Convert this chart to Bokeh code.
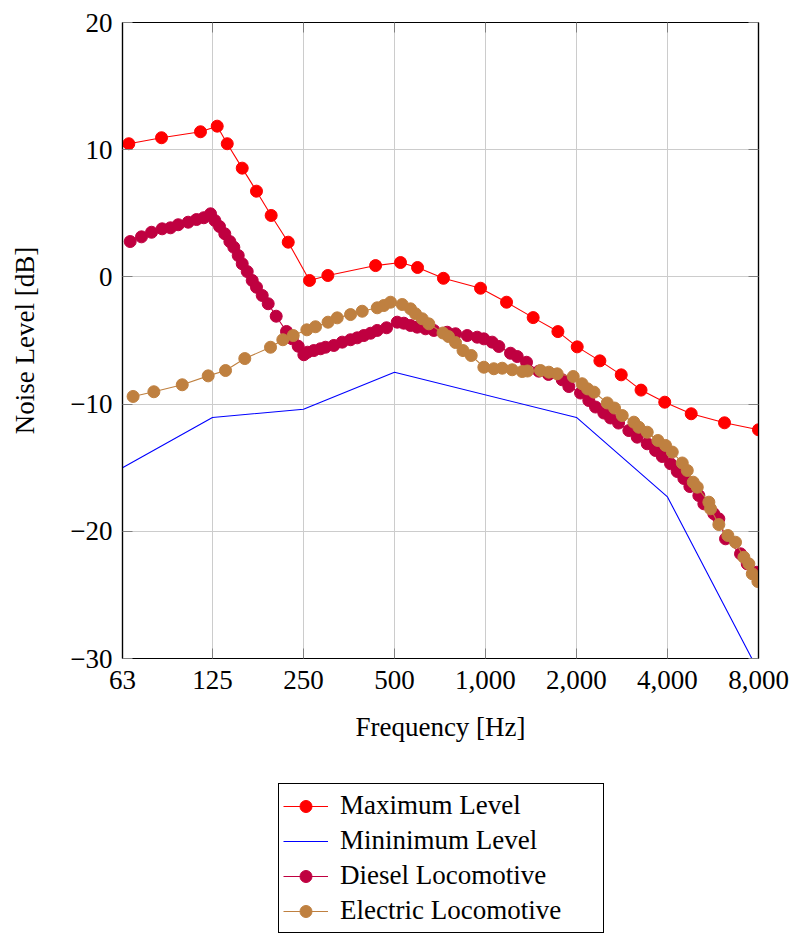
from bokeh.plotting import figure
from bokeh.layouts import column
from bokeh.models import Range1d, FixedTicker, LinearAxis, LogAxis, Legend, LegendItem
from bokeh.embed import file_html
from bokeh.resources import INLINE

# ---------------- data ----------------
x_ticks = [63, 125, 250, 500, 1000, 2000, 4000, 8000]
x_tick_labels = ["63", "125", "250", "500", "1,000", "2,000", "4,000", "8,000"]
y_ticks = [-30, -20, -10, 0, 10, 20]
y_tick_labels = ["\u221230", "\u221220", "\u221210", "0", "10", "20"]

max_f = [66.1, 84.8, 114.1, 129.6, 139.9, 156.8, 174.8, 195.5, 222.6, 261.8, 301, 433,
         523.6, 596, 726, 963, 1174, 1438, 1736, 2011, 2390, 2812, 3270, 3917, 4792, 6175, 8000]
max_db = [10.47, 10.94, 11.41, 11.85, 10.47, 8.55, 6.74, 4.83, 2.73, -0.28, 0.11, 0.89,
          1.13, 0.74, -0.11, -0.89, -1.99, -3.2, -4.3, -5.5, -6.6, -7.7, -8.9, -9.85, -10.76, -11.47, -12.02]

min_f = [63, 125, 250, 500, 2000, 4000, 8000]
min_db = [-15.0, -11.05, -10.4, -7.5, -11.05, -17.3, -31.0]

dies_f = [66.8, 72.8, 78.6, 85.2, 90.8, 96.3, 103.9, 110.7, 117.0, 123.2,
          127.3, 131.9, 137.3, 142.7, 147.1, 152.1, 156.8, 162.9, 169.2, 174.8,
          182.6, 191.1, 203.1, 219.7, 229.5, 240.2, 250.7, 257.8, 270.5, 284.7,
          295.7, 315.0, 335.8, 357.8, 376.5, 395.9, 416.7, 438.5, 470.7, 510.6,
          536.9, 565.0, 594.6, 633.4, 674.8, 747.4, 796.1, 870.2, 939.2, 987.6,
          1052.7, 1107.1, 1210.2, 1273.7, 1367, 1501, 1616, 1794, 1887, 2063,
          2197, 2312, 2463, 2592, 2755, 2980, 3176, 3428, 3652, 3844,
          4094, 4309, 4531, 4743, 5079, 5276, 5693, 5914, 6224, 6977,
          7342, 7881]
dies_db = [2.78, 3.15, 3.51, 3.78, 3.86, 4.10, 4.30, 4.51, 4.65, 4.96,
           4.43, 3.96, 3.39, 2.78, 2.33, 1.68, 1.03, 0.42, -0.28, -0.81,
           -1.46, -2.11, -3.09, -4.29, -4.87, -5.45, -6.12, -5.92, -5.79, -5.65,
           -5.53, -5.39, -5.13, -4.94, -4.79, -4.61, -4.43, -4.21, -4.00, -3.56,
           -3.64, -3.82, -3.95, -4.08, -4.21, -4.35, -4.47, -4.61, -4.74, -4.87,
           -5.13, -5.47, -6.00, -6.26, -6.71, -7.41, -7.67, -8.09, -8.62, -9.13,
           -9.72, -10.23, -10.70, -11.09, -11.49, -12.08, -12.60, -13.12, -13.65, -14.12,
           -14.69, -15.30, -15.85, -16.48, -17.19, -17.84, -18.62, -19.02, -20.59, -21.77,
           -22.56, -23.22]

elec_f = [68.3, 80.0, 99.3, 121.0, 138.1, 159.9, 194.5, 213.6, 231.2, 256.5,
          274.0, 301.4, 323.3, 357.8, 391.1, 438.5, 461.0, 485.2, 530.4, 565.0,
          587.0, 617.7, 649.5, 723.7, 754.6, 796.1, 842.8, 897.1, 987.6, 1065.5,
          1136.1, 1225.7, 1323, 1377, 1521, 1620, 1727, 1951, 2087, 2175,
          2286, 2528, 2672, 2834, 3096, 3216, 3428, 3717, 3941, 4148,
          4476, 4650, 4867, 5018, 5482, 5553, 5914, 6335, 6716, 7157,
          7434, 7629, 7963]
elec_db = [-9.40, -9.03, -8.48, -7.78, -7.36, -6.42, -5.53, -4.94, -4.61, -4.16,
           -3.92, -3.56, -3.22, -2.96, -2.70, -2.43, -2.25, -1.99, -2.17, -2.51,
           -2.90, -3.29, -3.69, -4.41, -4.69, -5.16, -5.79, -6.18, -7.10, -7.22,
           -7.18, -7.30, -7.44, -7.40, -7.36, -7.49, -7.62, -7.83, -8.40, -8.80,
           -9.06, -9.91, -10.31, -10.90, -11.42, -11.82, -12.21, -12.86, -13.25, -13.77,
           -14.63, -15.22, -16.14, -16.53, -17.71, -18.23, -19.47, -20.33, -20.86, -22.04,
           -22.56, -23.34, -23.95]

series_names = ["Maximum Level", "Mininimum Level", "Diesel Locomotive", "Electric Locomotive"]
series_colors = ["#ff0000", "#0000ff", "#bf0040", "#bf8040"]
series_data = [(max_f, max_db, True), (min_f, min_db, False),
               (dies_f, dies_db, True), (elec_f, elec_db, True)]

# ---------------- main figure ----------------
FONT = "Liberation Serif"
FS = "27px"

p = figure(x_axis_type="log", x_range=Range1d(63, 8000), y_range=Range1d(-30, 20),
           frame_width=636, frame_height=636,
           min_border_left=122, min_border_top=22, min_border_right=38, min_border_bottom=112,
           output_backend="svg", toolbar_location=None)
p.background_fill_color = "white"
p.border_fill_color = "white"
p.outline_line_color = "black"
p.outline_line_width = 1.2

def style_axis(ax, show_labels=True):
    ax.axis_line_color = "black"
    ax.axis_line_width = 1.2
    ax.major_tick_in = 10
    ax.major_tick_out = 0
    ax.minor_tick_in = 0
    ax.minor_tick_out = 0
    ax.major_tick_line_color = "#808080"
    ax.major_tick_line_width = 1
    ax.major_label_text_font = FONT
    ax.major_label_text_color = "black"
    ax.major_label_text_font_size = FS
    ax.axis_label_text_font = FONT
    ax.axis_label_text_font_size = FS
    ax.axis_label_text_font_style = "normal"
    ax.axis_label_text_color = "black"
    if not show_labels:
        ax.major_label_standoff = 0

xa = p.xaxis[0]
xa.ticker = FixedTicker(ticks=x_ticks, minor_ticks=[])
xa.major_label_overrides = {t: s for t, s in zip(x_ticks, x_tick_labels)}
xa.axis_label = "Frequency [Hz]"
style_axis(xa)
xa.major_label_standoff = 12
xa.axis_label_standoff = 20

ya = p.yaxis[0]
ya.ticker = FixedTicker(ticks=y_ticks, minor_ticks=[])
ya.major_label_overrides = {t: s for t, s in zip(y_ticks, y_tick_labels)}
ya.axis_label = "Noise Level [dB]"
style_axis(ya)
ya.major_label_standoff = 10
ya.axis_label_standoff = 27

top = LogAxis(ticker=FixedTicker(ticks=x_ticks, minor_ticks=[]))
style_axis(top, show_labels=False)
top.major_label_overrides = {t: "" for t in x_ticks}
p.add_layout(top, "above")
right = LinearAxis(ticker=FixedTicker(ticks=y_ticks, minor_ticks=[]))
style_axis(right, show_labels=False)
right.major_label_overrides = {t: "" for t in y_ticks}
p.add_layout(right, "right")

p.xgrid.grid_line_color = "#cccccc"
p.ygrid.grid_line_color = "#cccccc"
p.xgrid.grid_line_width = 1
p.ygrid.grid_line_width = 1

for (fx, fy, markers), col in zip(series_data, series_colors):
    p.line(fx, fy, line_color=col, line_width=1.1)
    if markers:
        p.scatter(fx, fy, size=12, fill_color=col, line_color=col)

# ---------------- legend strip (below the plot) ----------------
q = figure(width=796, height=164, x_range=Range1d(0, 1), y_range=Range1d(0, 1),
           x_axis_location=None, y_axis_location=None,
           min_border=0, min_border_left=0, min_border_right=0, min_border_top=0, min_border_bottom=0,
           output_backend="svg", toolbar_location=None)
q.outline_line_color = None
q.grid.visible = False
q.background_fill_color = "white"
q.border_fill_color = "white"

items = []
for name, (fx, fy, markers), col in zip(series_names, series_data, series_colors):
    # same series, but outside this strip's ranges: only their legend glyphs show
    rs = [q.line(fx, fy, line_color=col, line_width=1.1)]
    if markers:
        rs.append(q.scatter(fx, fy, size=12, fill_color=col, line_color=col))
    items.append(LegendItem(label=name, renderers=rs))

legend = Legend(items=items, location=(156, 1), orientation="vertical")
legend.label_text_font = FONT
legend.label_text_font_size = FS
legend.label_text_color = "black"
legend.glyph_width = 45
legend.glyph_height = 30
legend.label_height = 35
legend.label_width = 259
legend.label_standoff = 12
legend.spacing = 0
legend.padding = 4
legend.margin = 0
legend.border_line_color = "black"
legend.border_line_width = 1
legend.border_line_alpha = 1
legend.background_fill_color = "white"
legend.background_fill_alpha = 1
q.add_layout(legend, "center")

open("out.html", "w").write(file_html(column(p, q), INLINE))
